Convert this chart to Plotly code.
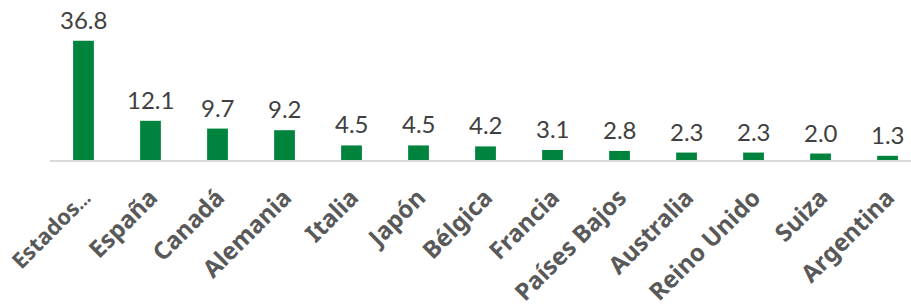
import plotly.graph_objects as go

categories = ["<span style='font-size:22px'>Estados</span><span style='font-size:18px'>…</span>", "España", "Canadá",
              "Alemania", "Italia", "Japón", "Bélgica", "Francia", "Países Bajos", "Australia", "Reino Unido",
              "Suiza", "Argentina"]
values = [36.8, 12.1, 9.7, 9.2, 4.5, 4.5, 4.2, 3.1, 2.8, 2.3, 2.3, 2.0, 1.3]
value_labels = [f"{v:.1f}" for v in values]

fig = go.Figure()
fig.add_trace(go.Bar(
    x=list(range(len(categories))), y=values,
    marker=dict(color="#00843D", line=dict(width=0)),
    width=0.31,
))
for i, (v, t) in enumerate(zip(values, value_labels)):
    fig.add_annotation(x=i, y=v, text=t, showarrow=False, yanchor="bottom",
                       yshift=5, font=dict(family="Lato, Noto Sans, sans-serif", size=24, color="#404040"))

fig.update_layout(
    width=911, height=304,
    margin=dict(l=50, r=0, t=0, b=143.5),
    plot_bgcolor="white", paper_bgcolor="white",
    showlegend=False,
    xaxis=dict(
        range=[-0.5, 12.35], automargin=False, ticklabeloverflow="allow",
        tickmode="array", tickvals=list(range(len(categories))), ticktext=categories,
        tickangle=-45, showgrid=False, zeroline=False,
        showline=True, linecolor="#D9D9D9", linewidth=2,
        ticks="", ticklabelstandoff=12,
        tickfont=dict(family="Noto Sans, sans-serif", size=24, color="#595959", weight="bold"),
    ),
    yaxis=dict(range=[0, 49.4], visible=False, showgrid=False, zeroline=False, automargin=False),
)

fig.write_html("out.html", config={"displayModeBar": False},
               post_script="document.body.style.margin='0px';")
